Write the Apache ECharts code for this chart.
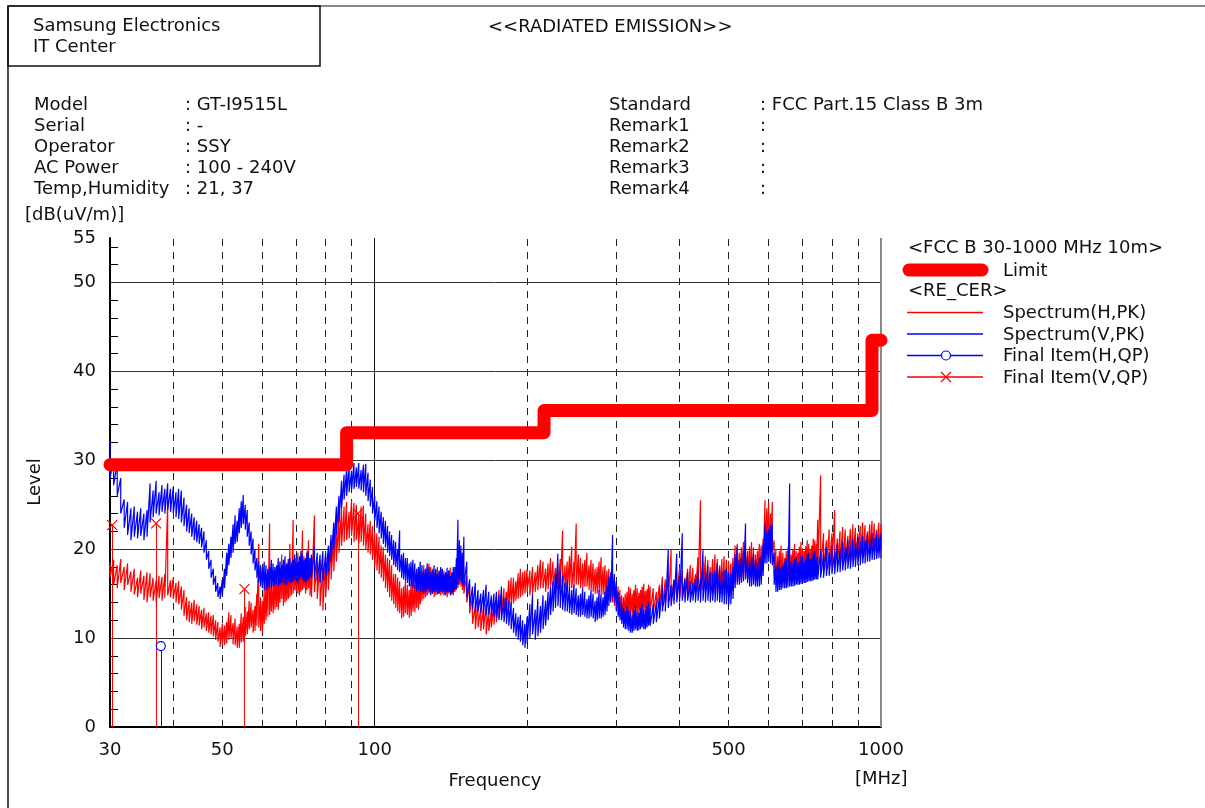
<!DOCTYPE html>
<html>
<head>
<meta charset="utf-8">
<script src="https://cdn.jsdelivr.net/npm/echarts@6/dist/echarts.min.js"></script>
<style>
html,body{margin:0;padding:0;background:#fff;}
#c{width:1205px;height:808px;}
</style>
</head>
<body>
<div id="c"></div>
<script>
// ---------------- DATA ----------------
// Sweep frequencies (MHz), split by band
const bandA_MHz  = [30,30.5,31,31.5,32,32.5,33,33.5,34,34.5,35,35.5,36,36.5,37,37.5,38,38.5,39,39.5,40,40.5,41,41.5,42,42.5,43,43.5,44,44.5,45,45.5,46,46.5,47,47.5,48,48.5,49,49.5,50];
const bandB1_MHz = [50.5,51,51.5,52,52.5,53,53.5,54,54.5,55,55.5,56,56.5,57,57.5,58,58.5,59,59.5,60,60.5,61,61.5,62,62.5,63,63.5,64,64.5,65,65.5,66,66.5,67,67.5,68,68.5,69,69.5,70,70.5,71,71.5,72,72.5,73,73.5,74,74.5,75];
const bandB2_MHz = [76,77,78,79,80,81,82,83,84,85,86,87,88,89,90,91,92,93,94,95,96,97,98,99,100];
const bandC1_MHz = [101,102,103,104,105,106,107,108,109,110,111,112,113,114,115,116,117,118,119,120,121,122,123,124,125,126,127,128,129,130,131,132,133,134,135,136,137,138,139,140,141,142,143,144,145,146,147,148,149,150];
const bandC2_MHz = [152,154,156,158,160,162,164,166,168,170,172,174,176,178,180,182,184,186,188,190,192,194,196,198,200];
const bandD1_MHz = [202.5,205,207.5,210,212.5,215,217.5,220,222.5,225,227.5,230,232.5,235,237.5,240,242.5,245,247.5,250,252.5,255,257.5,260,262.5,265,267.5,270,272.5,275,277.5,280,282.5,285,287.5,290,292.5,295,297.5,300,302.5,305,307.5,310,312.5,315,317.5,320,322.5,325,327.5,330,332.5,335,337.5,340,342.5,345,347.5,350];
const bandD2_MHz = [355,360,365,370,375,380,385,390,395,400,405,410,415,420,425,430,435,440,445,450,455,460,465,470,475,480,485,490,495,500];
const bandE1_MHz = [505,510,515,520,525,530,535,540,545,550,555,560,565,570,575,580,585,590,595,600,605,610,615,620,625,630,635,640,645,650,655,660,665,670,675,680,685,690,695,700,705,710,715,720,725,730,735,740,745,750];
const bandE2_MHz = [760,770,780,790,800,810,820,830,840,850,860,870,880,890,900,910,920,930,940,950,960,970,980,990,1000];

// Spectrum(H,PK): max / min level read in each sweep bin, dB(uV/m)
const specH_A_hi  = [18.5,18.8,18.2,18.9,18.0,18.4,17.5,17.8,16.8,17.6,17.0,17.4,17.3,16.8,16.5,17.0,16.9,17.2,25.3,16.5,16.8,16.2,16.4,15.8,15.4,14.6,14.2,14.0,14.3,13.8,13.6,13.2,13.4,12.8,12.9,12.5,12.6,12.0,11.8,11.2,11.6];
const specH_A_lo  = [16.8,16.0,15.6,16.2,15.4,16.0,15.2,14.9,14.6,15.0,14.3,14.0,14.6,14.2,14.0,14.5,14.2,14.5,14.8,14.6,14.4,14.0,13.8,13.2,12.5,12.0,11.8,11.6,11.9,11.5,11.4,11.0,11.2,10.8,10.6,10.4,10.2,9.8,9.6,9.0,9.3];
const specH_B1_hi = [11.4,11.8,12.9,12.6,11.7,12.2,11.3,11.6,12.8,12.4,13.5,13.0,14.2,14.0,13.2,13.6,15.0,20.6,14.6,14.2,15.4,15.8,16.8,22.9,16.4,16.0,17.6,17.3,16.6,17.8,19.4,17.0,18.2,18.0,17.4,20.6,18.6,23.3,19.0,18.4,19.6,18.0,18.8,22.1,19.2,18.6,19.8,21.0,18.4,19.0];
const specH_B1_lo = [9.2,9.4,9.8,10.0,9.3,9.2,8.9,8.9,9.5,9.6,10.2,10.4,11.0,11.2,10.6,10.8,11.4,11.2,10.8,10.6,11.6,12.0,12.4,12.6,13.0,12.8,13.2,13.5,13.2,14.0,14.4,13.6,14.0,14.2,14.4,14.6,14.8,15.0,15.4,15.2,15.0,14.8,15.2,15.4,15.6,15.0,15.4,15.6,14.8,14.6];
const specH_B2_hi = [23.8,18.5,18.8,18.0,19.2,19.6,21.0,22.0,23.2,23.8,24.6,24.8,25.3,24.2,25.5,25.2,25.0,23.8,24.8,24.9,24.0,22.8,23.2,22.6,22.0];
const specH_B2_lo = [15.2,14.4,13.6,13.1,14.6,15.4,16.6,17.5,18.6,19.6,20.4,20.8,21.0,21.2,21.5,20.8,21.0,20.6,20.8,20.4,20.0,19.6,19.4,18.8,18.0];
const specH_C1_hi = [21.8,21.4,20.4,20.2,19.4,19.0,18.8,18.2,17.2,17.2,16.8,16.4,15.6,15.8,16.4,16.0,15.4,16.2,16.6,16.0,16.9,16.6,17.0,17.4,18.2,17.8,17.2,18.4,18.0,17.8,17.0,17.6,18.0,17.4,16.8,17.8,17.6,17.2,16.9,17.6,17.9,17.0,16.8,17.3,17.8,18.2,18.9,18.6,17.6,18.0];
const specH_C1_lo = [17.6,17.2,16.8,16.4,15.6,15.2,14.6,14.2,13.8,13.4,13.0,12.8,12.2,12.4,12.8,12.6,12.3,12.5,13.0,12.9,13.4,13.2,13.8,14.2,14.4,14.6,14.8,15.0,15.2,15.0,14.6,14.8,15.0,15.0,14.8,15.0,15.2,14.8,14.6,15.0,15.2,14.9,14.8,15.2,15.4,15.6,16.0,15.8,15.4,15.0];
const specH_C2_hi = [17.0,16.0,14.6,13.6,14.4,13.4,13.6,13.8,13.4,13.1,14.0,14.2,15.4,15.0,15.6,15.2,16.5,16.8,16.8,16.4,17.3,17.8,17.4,17.6,17.8];
const specH_C2_lo = [14.0,12.8,11.6,11.0,11.2,10.8,11.0,10.4,10.8,11.2,11.5,11.8,12.2,12.4,12.8,13.0,13.4,13.6,13.9,14.2,14.4,14.6,14.8,15.0,15.2];
const specH_D1_hi = [17.6,18.0,17.4,18.2,18.8,18.6,17.8,18.4,19.0,18.6,17.9,18.4,18.9,22.1,18.2,18.6,19.2,20.3,18.6,22.9,19.4,19.0,18.4,18.8,19.6,18.2,18.8,18.4,17.8,18.0,18.6,19.1,18.0,18.2,17.6,17.8,17.2,17.0,16.6,16.2,15.8,15.4,14.8,14.6,15.0,15.2,15.8,15.6,15.0,15.4,16.0,15.6,15.1,15.4,15.8,16.1,15.3,15.5,16.0,15.8];
const specH_D1_lo = [14.8,15.0,15.2,15.4,15.6,15.6,15.2,15.5,15.8,15.8,15.4,15.4,15.6,15.6,15.4,15.2,15.6,15.6,15.8,16.0,16.0,15.6,15.6,15.8,15.8,15.4,15.4,15.2,15.0,15.0,15.2,15.0,14.9,14.8,14.6,14.5,14.2,14.0,13.6,13.2,12.8,12.4,12.0,11.6,11.9,12.2,12.6,12.8,12.6,12.6,12.9,12.8,12.6,12.7,12.9,13.0,12.8,12.9,13.1,13.0];
const specH_D2_hi = [15.6,15.2,16.0,16.9,16.6,17.0,19.9,16.6,17.4,17.9,17.6,16.8,17.8,18.2,17.9,17.2,19.1,25.5,18.6,19.2,18.8,18.0,18.9,19.4,18.9,18.2,18.9,19.2,18.8,18.7];
const specH_D2_lo = [13.0,13.2,13.4,13.6,13.8,14.0,14.2,14.2,14.5,14.4,14.6,14.6,14.8,14.8,15.0,15.0,15.2,15.4,15.4,15.2,15.4,15.0,15.2,15.0,15.1,15.0,15.0,14.8,14.8,14.6];
const specH_E1_hi = [18.4,19.0,20.4,20.6,19.6,20.2,20.8,21.0,19.8,20.3,20.8,20.2,19.4,19.8,20.6,20.4,21.2,25.5,24.6,25.2,24.0,25.3,21.0,20.0,19.2,19.8,20.4,19.6,19.0,19.8,20.2,19.6,19.4,20.0,20.6,19.8,19.6,20.3,20.8,20.1,19.8,20.3,21.0,20.6,20.0,20.4,21.2,21.0,20.6,23.3];
const specH_E1_lo = [15.0,15.4,16.2,16.4,16.4,16.6,16.8,16.8,16.6,16.6,16.6,16.5,16.4,16.4,16.6,16.8,17.6,19.5,19.8,20.0,19.8,19.8,17.0,16.0,16.0,16.2,16.2,16.2,16.3,16.4,16.4,16.4,16.5,16.6,16.6,16.6,16.7,16.8,16.8,16.8,16.9,17.0,17.0,17.0,17.1,17.2,17.2,17.2,17.3,17.4];
const specH_E2_hi = [28.3,21.8,21.0,22.2,21.8,24.4,21.2,22.0,22.5,22.2,21.5,22.3,22.8,22.4,21.8,22.6,23.0,22.7,22.0,22.8,23.2,22.9,22.2,23.0,22.8];
const specH_E2_lo = [17.6,17.6,17.8,17.8,18.0,18.0,18.2,18.2,18.4,18.4,18.6,18.6,18.8,18.8,19.0,19.0,19.2,19.2,19.4,19.4,19.5,19.6,19.6,19.8,19.8];

// Spectrum(V,PK): max / min level read in each sweep bin, dB(uV/m)
const specV_A_hi  = [32.1,30.0,29.7,28.0,25.6,25.3,24.6,24.8,24.2,24.6,24.0,24.4,27.4,26.6,27.7,26.4,27.2,26.8,27.4,26.8,27.0,26.4,26.8,26.6,25.8,25.0,24.6,24.0,23.6,23.2,22.8,22.4,22.0,21.0,19.8,18.8,17.8,17.0,16.2,15.8,16.6];
const specV_A_lo  = [28.0,27.2,26.0,24.0,22.4,21.6,21.0,21.4,21.2,21.5,21.0,21.4,23.0,23.6,24.0,23.8,24.2,24.0,24.4,24.2,24.0,23.6,23.4,23.0,22.6,22.0,21.8,21.4,21.0,20.8,20.6,20.2,19.6,18.8,17.8,16.8,16.0,15.2,14.6,14.4,14.8];
const specV_B1_hi = [17.8,19.6,20.6,21.4,22.8,23.8,23.2,24.6,25.4,26.1,25.0,24.4,23.0,22.0,21.2,20.0,19.0,18.6,18.2,18.0,18.6,18.2,17.8,18.0,18.8,18.4,18.0,18.2,19.0,18.6,18.2,18.8,19.2,18.4,18.9,19.0,18.4,18.8,19.4,19.0,18.6,19.2,19.8,19.4,18.8,19.0,19.6,19.6,19.0,19.4];
const specV_B1_lo = [15.6,17.0,18.2,19.0,19.6,20.6,20.8,21.8,22.4,22.8,22.2,21.4,20.4,19.4,18.4,17.6,16.8,16.2,15.8,15.6,15.4,15.4,15.6,15.8,15.6,15.8,16.0,16.0,15.8,16.0,16.2,16.2,16.0,16.0,16.4,16.2,16.2,16.4,16.6,16.4,16.2,16.6,16.8,16.6,16.4,16.2,16.4,16.6,16.8,16.8];
const specV_B2_hi = [20.3,19.6,19.4,19.8,19.6,20.4,21.6,23.0,24.8,26.0,27.7,28.4,28.9,29.6,28.8,29.7,29.2,29.7,28.9,29.5,29.6,28.6,27.8,27.0,26.0];
const specV_B2_lo = [16.8,16.4,16.2,16.4,16.6,17.4,18.6,20.0,21.6,23.0,24.6,25.6,26.0,26.4,26.6,26.8,27.0,26.8,26.6,26.4,26.0,25.4,24.8,24.0,23.2];
const specV_C1_hi = [25.4,24.8,24.2,23.6,23.2,22.6,22.0,21.6,21.0,20.8,20.0,22.1,19.4,19.6,19.0,19.0,18.4,18.6,18.8,18.4,17.8,18.0,18.6,18.2,17.6,17.8,18.4,18.0,17.4,17.6,18.2,17.8,17.2,17.6,18.0,17.8,17.2,17.4,17.9,17.6,17.0,17.4,18.0,18.0,19.0,23.3,21.0,20.4,19.6,21.4];
const specV_C1_lo = [22.4,21.8,21.2,20.6,20.2,19.6,19.2,18.8,18.2,18.0,17.6,17.4,16.8,16.6,16.4,16.2,15.8,15.8,15.6,15.6,15.2,15.4,15.2,15.2,15.0,15.0,15.4,15.2,14.8,15.0,15.2,15.2,14.9,15.0,15.2,15.2,14.8,15.0,15.2,15.2,14.8,15.0,15.2,15.4,15.6,16.0,16.6,16.4,16.0,15.8];
const specV_C2_hi = [18.6,16.6,15.8,16.2,15.4,15.0,15.4,16.0,15.2,14.8,15.0,15.2,14.8,15.8,14.6,14.4,14.2,14.0,13.4,12.8,12.4,12.6,12.0,11.6,12.4];
const specV_C2_lo = [14.6,13.6,13.2,13.0,13.0,12.8,12.8,12.6,12.6,12.4,12.4,12.2,12.0,12.0,11.8,11.6,11.4,11.0,10.6,10.2,9.8,9.6,9.2,8.9,9.4];
const specV_D1_hi = [13.8,15.0,13.2,14.4,13.6,14.8,14.2,15.2,15.8,16.4,17.2,19.5,17.6,17.0,16.2,16.6,15.8,15.4,16.0,15.6,14.8,15.0,15.6,15.2,14.4,14.8,15.4,15.0,14.2,14.6,15.4,15.0,14.6,15.2,15.8,16.9,17.4,21.6,17.2,16.4,15.2,14.6,13.8,13.4,13.0,13.6,13.2,13.0,12.6,13.2,13.6,13.0,12.8,13.4,13.8,13.2,13.0,13.6,14.0,13.4];
const specV_D1_lo = [10.0,10.4,9.8,10.2,10.6,11.0,11.4,12.0,12.6,13.0,13.4,13.6,13.4,13.2,13.0,13.0,12.8,12.6,12.8,12.6,12.4,12.4,12.6,12.4,12.2,12.2,12.4,12.2,11.8,12.0,12.2,12.2,12.4,12.6,13.0,13.6,14.0,14.6,14.0,13.0,12.4,12.0,11.6,11.2,11.0,11.0,10.8,10.6,10.6,10.8,11.0,10.8,10.9,11.0,11.2,11.0,11.0,11.2,11.4,11.4];
const specV_D2_hi = [13.8,14.0,14.6,15.8,15.4,19.9,16.0,16.5,19.5,17.0,21.8,16.6,17.4,16.4,16.2,16.6,17.6,16.8,19.9,17.4,18.2,17.4,17.2,17.6,18.4,17.8,17.4,17.6,17.8,17.4];
const specV_D2_lo = [11.6,11.8,12.2,13.0,13.0,13.4,13.6,13.8,14.0,14.0,14.2,14.0,14.2,14.0,14.2,14.0,14.2,14.0,14.2,14.0,14.2,14.0,14.2,14.0,14.2,14.0,14.0,13.8,13.8,13.6];
const specV_E1_hi = [17.2,18.0,19.4,20.3,18.8,19.0,19.8,22.9,19.2,18.6,19.0,19.5,18.8,18.4,19.0,19.2,20.6,22.9,22.0,22.2,22.6,22.8,19.6,18.0,18.4,18.8,18.0,18.2,18.6,18.9,18.2,27.4,18.6,18.4,18.9,19.1,18.4,18.6,19.2,19.3,18.6,18.8,19.4,19.6,18.9,19.0,19.6,19.8,19.1,19.2];
const specV_E1_lo = [13.8,14.4,15.6,16.0,16.0,16.2,16.4,16.6,16.2,15.8,15.8,16.0,15.8,15.8,15.8,16.0,17.0,18.4,18.4,18.6,18.4,18.2,16.0,15.2,15.2,15.4,15.4,15.6,15.6,15.6,15.7,15.8,15.8,15.8,15.9,16.0,16.0,16.0,16.1,16.2,16.2,16.2,16.3,16.4,16.4,16.4,16.5,16.6,16.6,16.6];
const specV_E2_hi = [20.0,19.4,20.2,19.6,20.4,19.8,20.6,20.0,20.8,20.2,21.0,20.4,21.2,20.6,21.4,20.8,21.5,21.0,21.7,21.1,21.8,21.2,21.9,21.3,21.8];
const specV_E2_lo = [16.8,16.8,17.0,17.0,17.2,17.2,17.4,17.4,17.6,17.6,17.8,17.8,18.0,18.0,18.2,18.2,18.4,18.4,18.6,18.6,18.8,18.8,18.9,19.0,19.0];

// Limit (FCC B 30-1000 MHz 10m)
const limitMHz   = [30, 88, 88, 216, 216, 960, 960, 1000];
const limitLevel = [29.5, 29.5, 33.1, 33.1, 35.6, 35.6, 43.5, 43.5];

// Final items (QP)
const finalH_MHz = [37.8];
const finalH_Level = [9.1];
const finalV_MHz = [30.3, 37.0, 55.3, 92.6];
const finalV_Level = [22.7, 22.9, 15.5, 24.0];

// Axis ticks / grid
const xTickLabels = [30, 50, 100, 500, 1000];
const yTickLabels = [0, 10, 20, 30, 40, 50, 55];
const yMinorTicks = [0,2,4,6,8,10,12,14,16,18,20,22,24,26,28,30,32,34,36,38,40,42,44,46,48,50,52,54];
const gridDashMHz = [40, 50, 60, 70, 80, 90, 200, 300, 400, 500, 600, 700, 800, 900];
const gridSolidMHz = [100];
const gridLevels = [10, 20, 30, 40, 50];

// ---------------- BUILD ----------------
const FONT = 'DejaVu Sans';
const RED = '#ff0000', BLUE = '#0000ff';
const sweep = [].concat(bandA_MHz, bandB1_MHz, bandB2_MHz, bandC1_MHz, bandC2_MHz, bandD1_MHz, bandD2_MHz, bandE1_MHz, bandE2_MHz);
const hHi = [].concat(specH_A_hi, specH_B1_hi, specH_B2_hi, specH_C1_hi, specH_C2_hi, specH_D1_hi, specH_D2_hi, specH_E1_hi, specH_E2_hi);
const hLo = [].concat(specH_A_lo, specH_B1_lo, specH_B2_lo, specH_C1_lo, specH_C2_lo, specH_D1_lo, specH_D2_lo, specH_E1_lo, specH_E2_lo);
const vHi = [].concat(specV_A_hi, specV_B1_hi, specV_B2_hi, specV_C1_hi, specV_C2_hi, specV_D1_hi, specV_D2_hi, specV_E1_hi, specV_E2_hi);
const vLo = [].concat(specV_A_lo, specV_B1_lo, specV_B2_lo, specV_C1_lo, specV_C2_lo, specV_D1_lo, specV_D2_lo, specV_E1_lo, specV_E2_lo);
const zip = (xs, ys) => xs.map((x, i) => [x, ys[i]]);
// each sweep bin drawn as its max then its min (peak trace envelope)
function binPts(xs, hi, lo) {
  const out = [];
  xs.forEach((x, i) => { out.push([x, hi[i]]); out.push([x, lo[i]]); });
  return out;
}

const gridLines = []
  .concat(gridDashMHz.map(f => ({xAxis: f, lineStyle: {type: [7, 6], color: '#222', width: 1}})))
  .concat(gridSolidMHz.map(f => ({xAxis: f, lineStyle: {type: 'solid', color: '#111', width: 1}})))
  .concat(gridLevels.map(v => ({yAxis: v, lineStyle: {type: 'solid', color: '#333', width: 1}})))
  .concat([{xAxis: 1000, lineStyle: {type: 'solid', color: '#888', width: 2}}]);

const stems = (xs, ys, color) => xs.map((x, i) => [
  {coord: [x, ys[i]], lineStyle: {color: color, width: 1, type: 'solid'}},
  {coord: [x, 0]}
]);

function txt(x, y, text, extra) {
  return Object.assign({
    type: 'text', x: x, y: y, silent: true,
    style: Object.assign({text: text, fill: '#111', fontSize: 18, fontFamily: FONT, align: 'left', verticalAlign: 'middle'}, (extra && extra.style) || {})
  }, extra && extra.el || {});
}
function ln(x1, y1, x2, y2, stroke, w, cap) {
  return {type: 'line', silent: true, shape: {x1, y1, x2, y2}, style: {stroke: stroke, lineWidth: w, lineCap: cap || 'butt'}};
}

const leftRows = [['Model', ': GT-I9515L'], ['Serial', ': -'], ['Operator', ': SSY'], ['AC Power', ': 100 - 240V'], ['Temp,Humidity', ': 21, 37']];
const rightRows = [['Standard', ': FCC Part.15 Class B 3m'], ['Remark1', ':'], ['Remark2', ':'], ['Remark3', ':'], ['Remark4', ':']];
const rowY = [105, 126, 147.5, 168.5, 189.5];

const graphics = [
  ln(8, 6, 1205, 6, '#888', 2),
  ln(8, 6, 8, 808, '#111', 1.5),
  {type: 'rect', silent: true, shape: {x: 8, y: 6, width: 312, height: 60}, style: {fill: 'none', stroke: '#111', lineWidth: 1.5}},
  txt(33, 26, 'Samsung Electronics'),
  txt(33, 47, 'IT Center'),
  txt(488, 27, '<<RADIATED EMISSION>>'),
  txt(25, 215, '[dB(uV/m)]'),
  txt(35, 482, 'Level', {style: {align: 'center'}, el: {rotation: Math.PI / 2}}),
  txt(495, 781, 'Frequency', {style: {align: 'center'}}),
  txt(855, 779, '[MHz]'),
  // legend
  txt(908, 248.5, '<FCC B 30-1000 MHz 10m>'),
  ln(909, 270, 982, 270, RED, 13, 'round'),
  txt(1003, 271, 'Limit'),
  txt(908, 291.5, '<RE_CER>'),
  ln(907, 312.5, 983, 312.5, RED, 1.3),
  txt(1003, 313.5, 'Spectrum(H,PK)'),
  ln(907, 334, 983, 334, BLUE, 1.3),
  txt(1003, 335, 'Spectrum(V,PK)'),
  ln(907, 355.5, 983, 355.5, BLUE, 1.3),
  {type: 'circle', silent: true, shape: {cx: 946, cy: 355.5, r: 4.5}, style: {fill: '#fff', stroke: BLUE, lineWidth: 1.2}},
  txt(1003, 356.5, 'Final Item(H,QP)'),
  ln(907, 377, 983, 377, RED, 1.3),
  ln(941, 372, 951, 382, RED, 1.2),
  ln(951, 372, 941, 382, RED, 1.2),
  txt(1003, 378, 'Final Item(V,QP)')
];
leftRows.forEach((r, i) => { graphics.push(txt(34, rowY[i], r[0])); graphics.push(txt(185, rowY[i], r[1])); });
rightRows.forEach((r, i) => { graphics.push(txt(609, rowY[i], r[0])); graphics.push(txt(760, rowY[i], r[1])); });

const chart = echarts.init(document.getElementById('c'), null, {renderer: 'canvas'});
chart.setOption({
  animation: false,
  backgroundColor: '#fff',
  textStyle: {fontFamily: FONT},
  grid: {left: 110, top: 238, width: 771, height: 489},
  xAxis: [
    {
      type: 'log', logBase: 10, min: 30, max: 1000, position: 'bottom',
      axisLine: {show: true, onZero: false, lineStyle: {color: '#000', width: 2}},
      axisTick: {show: false}, axisLabel: {show: false}, splitLine: {show: false}, minorTick: {show: false}
    },
    {
      type: 'value', min: Math.log10(30), max: 3, position: 'bottom',
      axisLine: {show: false}, axisTick: {show: false}, splitLine: {show: false},
      axisLabel: {
        customValues: xTickLabels.map(v => Math.log10(v)),
        formatter: v => String(Math.round(Math.pow(10, v))),
        color: '#111', fontSize: 18, fontFamily: FONT, margin: 14
      }
    }
  ],
  yAxis: {
    type: 'value', min: 0, max: 55, interval: 10,
    axisLine: {show: true, lineStyle: {color: '#000', width: 2}},
    axisTick: {show: true, inside: true, length: 8, customValues: yMinorTicks, lineStyle: {color: '#000', width: 1}},
    splitLine: {show: false},
    axisLabel: {customValues: yTickLabels, color: '#111', fontSize: 18, fontFamily: FONT, margin: 14}
  },
  graphic: {elements: graphics},
  series: [
    {
      name: 'grid', type: 'line', data: [], silent: true, z: 1,
      markLine: {silent: true, z: 1, symbol: ['none', 'none'], label: {show: false}, animation: false, data: gridLines}
    },
    {
      name: 'Spectrum(H,PK)', type: 'line', data: binPts(sweep, hHi, hLo), z: 2,
      symbol: 'none', showSymbol: false, lineStyle: {color: RED, width: 1.2}, itemStyle: {color: RED}
    },
    {
      name: 'Spectrum(V,PK)', type: 'line', data: binPts(sweep, vHi, vLo), z: 2,
      symbol: 'none', showSymbol: false, lineStyle: {color: BLUE, width: 1.2}, itemStyle: {color: BLUE}
    },
    {
      name: 'Limit', type: 'line', data: zip(limitMHz, limitLevel), z: 3,
      symbol: 'none', showSymbol: false, lineStyle: {color: RED, width: 13, cap: 'round', join: 'round'}, itemStyle: {color: RED}
    },
    {
      name: 'Final Item(H,QP)', type: 'scatter', data: zip(finalH_MHz, finalH_Level), z: 5,
      symbol: 'circle', symbolSize: 9,
      itemStyle: {color: '#fff', borderColor: BLUE, borderWidth: 1.2, opacity: 1},
      markLine: {silent: true, z: 4, symbol: ['none', 'none'], label: {show: false}, animation: false, data: stems(finalH_MHz, finalH_Level, BLUE)}
    },
    {
      name: 'Final Item(V,QP)', type: 'scatter', data: zip(finalV_MHz, finalV_Level), z: 5,
      symbol: 'path://M0,0L10,10M10,0L0,10', symbolSize: 10,
      itemStyle: {color: 'none', borderColor: RED, borderWidth: 1.2, opacity: 1},
      markLine: {silent: true, z: 4, symbol: ['none', 'none'], label: {show: false}, animation: false, data: stems(finalV_MHz, finalV_Level, RED)}
    }
  ]
});
</script>
</body>
</html>
